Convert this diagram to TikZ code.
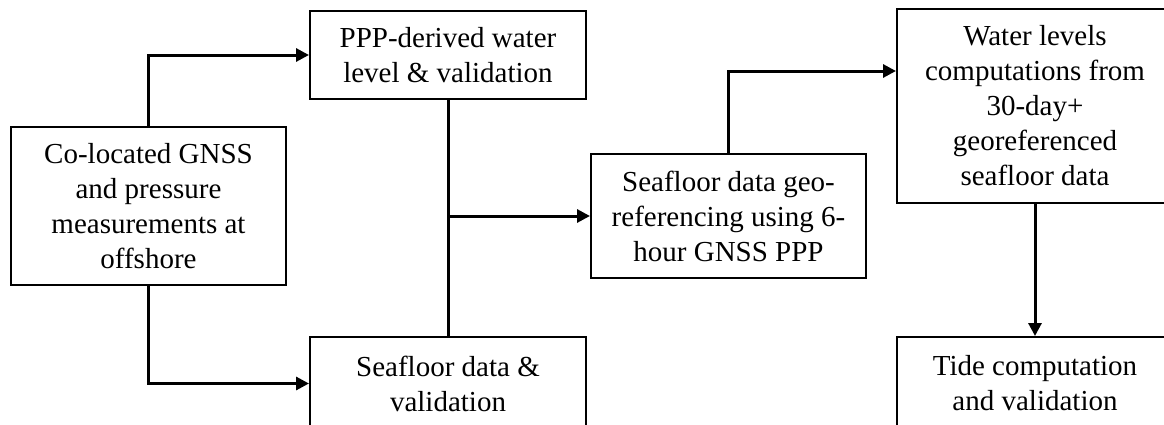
\documentclass[tikz,border=0pt]{standalone}
\usepackage{fontspec}
\setmainfont{Liberation Serif}
\usetikzlibrary{arrows.meta}
\tikzset{
  flowbox/.style={draw=black, line width=1pt, fill=white, align=center,
    inner sep=0pt, font=\fontsize{14.5}{17.5}\selectfont},
  link/.style={line width=1.5pt, line cap=butt},
  arr/.style={link, -{Triangle[length=6.5pt,width=6.5pt]}}
}
\begin{document}
\begin{tikzpicture}[x=0.5pt, y=-0.5pt]
  \useasboundingbox (0,0) rectangle (1164,424);
  \clip (0,0) rectangle (1164,424);

  % process boxes (one drawing unit is half a point)
  \node[flowbox, minimum width=137.5pt, minimum height=79pt] (src) at (148.5,206)
    {Co-located GNSS\\and pressure\\measurements at\\offshore};
  \node[flowbox, minimum width=138pt, minimum height=44pt] (ppp) at (448,55)
    {PPP-derived water\\level \& validation};
  \node[flowbox, minimum width=138pt, minimum height=46.5pt] (sfv) at (448,383.5)
    {Seafloor data \&\\validation};
  \node[flowbox, minimum width=137.5pt, minimum height=62pt] (geo) at (728.5,216)
    {Seafloor data geo-\\referencing using 6-\\hour GNSS PPP};
  \node[flowbox, minimum width=138pt, minimum height=97pt] (wl) at (1035,106)
    {Water levels\\computations from\\30-day+\\georeferenced\\seafloor data};
  \node[flowbox, minimum width=138pt, minimum height=46.5pt] (tide) at (1035,383.5)
    {Tide computation\\and validation};

  % entry point on the left side of the water level box
  \path (wl.north west) ++(0,63) coordinate (wlin);

  % connectors
  \draw[arr] (src.north) |- (ppp.west);
  \draw[arr] (src.south) |- (sfv.west);
  \draw[link] (ppp.south) -- (sfv.north);
  \draw[arr] (ppp.south |- geo.west) -- (geo.west);
  \draw[arr] (geo.north) |- (wlin);
  \draw[arr] (wl.south) -- (tide.north);
\end{tikzpicture}
\end{document}
